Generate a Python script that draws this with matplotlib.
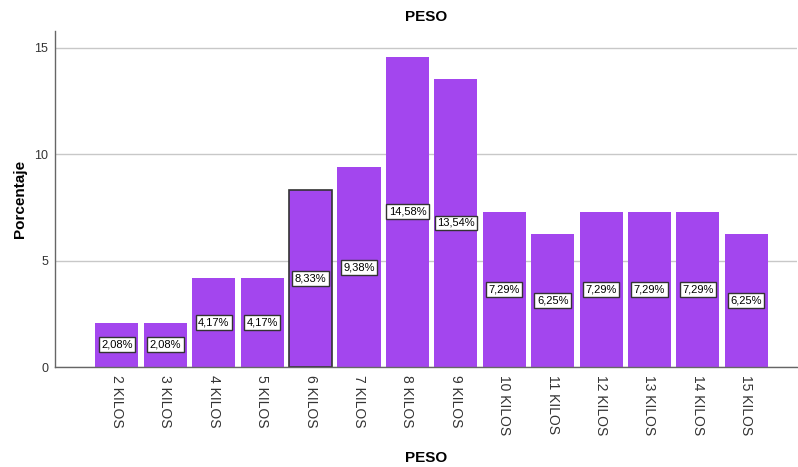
import matplotlib.pyplot as plt
import numpy as np

plt.rcParams['font.family'] = ['Liberation Sans', 'DejaVu Sans']

categorias = ["2 KILOS", "3 KILOS", "4 KILOS", "5 KILOS", "6 KILOS", "7 KILOS",
              "8 KILOS", "9 KILOS", "10 KILOS", "11 KILOS", "12 KILOS",
              "13 KILOS", "14 KILOS", "15 KILOS"]
porcentajes = [2.08, 2.08, 4.17, 4.17, 8.33, 9.38, 14.58, 13.54,
               7.29, 6.25, 7.29, 7.29, 7.29, 6.25]
etiquetas = ["2,08%", "2,08%", "4,17%", "4,17%", "8,33%", "9,38%", "14,58%",
             "13,54%", "7,29%", "6,25%", "7,29%", "7,29%", "7,29%", "6,25%"]
yticks = [0, 5, 10, 15]

color_barra = '#a346ee'

fig = plt.figure(figsize=(7.98, 4.67), dpi=100)
ax = fig.add_axes([0.0689, 0.2141, 0.930, 0.7195])

x = np.arange(len(categorias))
bars = ax.bar(x, porcentajes, width=0.89, color=color_barra, edgecolor='none', zorder=3)
# la barra de 6 KILOS va con borde oscuro
bars[4].set_edgecolor('#333333')
bars[4].set_linewidth(1.2)

for xi, v, lab in zip(x, porcentajes, etiquetas):
    ax.text(xi, v / 2, lab, ha='center', va='center', fontsize=8, zorder=4,
            bbox=dict(boxstyle='square,pad=0.22', fc='white', ec='#333333', lw=1))

ax.set_xlim(-1.28, 14.05)
ax.set_ylim(0, 15.79)
ax.set_yticks(yticks)
ax.set_xticks(x)
ax.set_xticklabels(categorias, rotation=-90, fontsize=10, color='#333333')
ax.tick_params(axis='both', length=0, colors='#333333')
ax.tick_params(axis='y', labelsize=9, pad=5)
ax.tick_params(axis='x', pad=6)

ax.grid(axis='y', color='#c8c8c8', lw=1, zorder=0)
for s in ['top', 'right']:
    ax.spines[s].set_visible(False)
for s in ['left', 'bottom']:
    ax.spines[s].set_color('#666666')
    ax.spines[s].set_linewidth(1)
    ax.spines[s].set_zorder(5)

ax.set_ylabel("Porcentaje", fontsize=11, fontweight='bold', labelpad=5)
ax.set_xlabel("PESO", fontsize=11, fontweight='bold', labelpad=11)
fig.text(0.5 * (0.0689 + 0.9989), 1 - 17 / 467, "PESO", ha='center', va='center',
         fontsize=11, fontweight='bold')

fig.savefig("out.png", dpi=100)
